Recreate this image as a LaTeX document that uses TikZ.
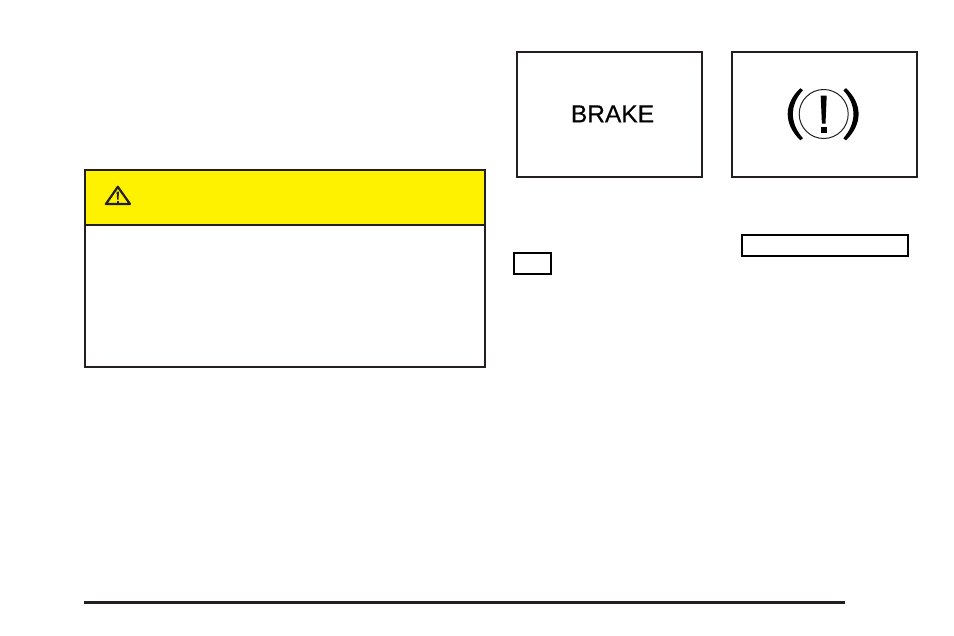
\documentclass[tikz,border=0pt]{standalone}
\usepackage{fontspec}
\setmainfont{Liberation Sans}
\newfontfamily\brakefont[FakeBold=0.35]{Liberation Sans}
\definecolor{inkdark}{HTML}{231F20}
\definecolor{cautionyellow}{HTML}{FFF200}
\tikzset{
  pxline/.style={line width=#1*0.75pt},
  panel/.style={draw=inkdark,pxline=2},
  blankbox/.style={draw=black,pxline=2},
}
\begin{document}
\begin{tikzpicture}[x=0.75pt,y=-0.75pt]
\useasboundingbox (0,0) rectangle (954,636);
% caution box
\fill[cautionyellow] (85,170) rectangle (485,225);
\draw[panel] (85,170) rectangle (485,367);
\draw[panel] (85,225) -- (485,225);
% warning triangle
\draw[draw=inkdark,pxline=2.2,line join=round] (117.8,186.8) -- (105.9,204) -- (130,204) -- cycle;
\fill[inkdark] (116.6,191.5) -- (119,191.5) -- (118.5,199.5) -- (117.1,199.5) -- cycle;
\fill[inkdark] (116.7,200.5) rectangle (118.9,202.8);
% BRAKE panel
\draw[panel] (517,52) rectangle (702,177);
\node[font=\brakefont\fontsize{18.4pt}{20pt}\selectfont,text=black,inner sep=0pt,anchor=base] (brake) at (612.5,122.3) {BRAKE};
% brake symbol panel
\draw[panel] (732,52) rectangle (917,177);
\draw[draw=inkdark,pxline=1] (823.7,114) circle [radius=24.5];
\fill[black] (800.3,88.2) .. controls (783.5,104) and (783.5,124) .. (800.3,140.3)
  -- (803,138.3) .. controls (789.5,123) and (789.5,105) .. (803,90.2) -- cycle;
\fill[black] (846,88.2) .. controls (862.8,104) and (862.8,124) .. (846,140.3)
  -- (843.3,138.3) .. controls (856.8,123) and (856.8,105) .. (843.3,90.2) -- cycle;
\fill[black] (820.7,95.7) -- (826.7,95.7) -- (825.5,123.5) -- (821.9,123.5) -- cycle;
\fill[black] (820.7,127.3) rectangle (826.7,133.3);
% blank label boxes
\draw[blankbox] (742,235) rectangle (908,256);
\draw[blankbox] (514,253) rectangle (551.3,274);
% footer rule
\draw[draw=inkdark,pxline=3] (84,602.5) -- (845,602.5);
\end{tikzpicture}
\end{document}
